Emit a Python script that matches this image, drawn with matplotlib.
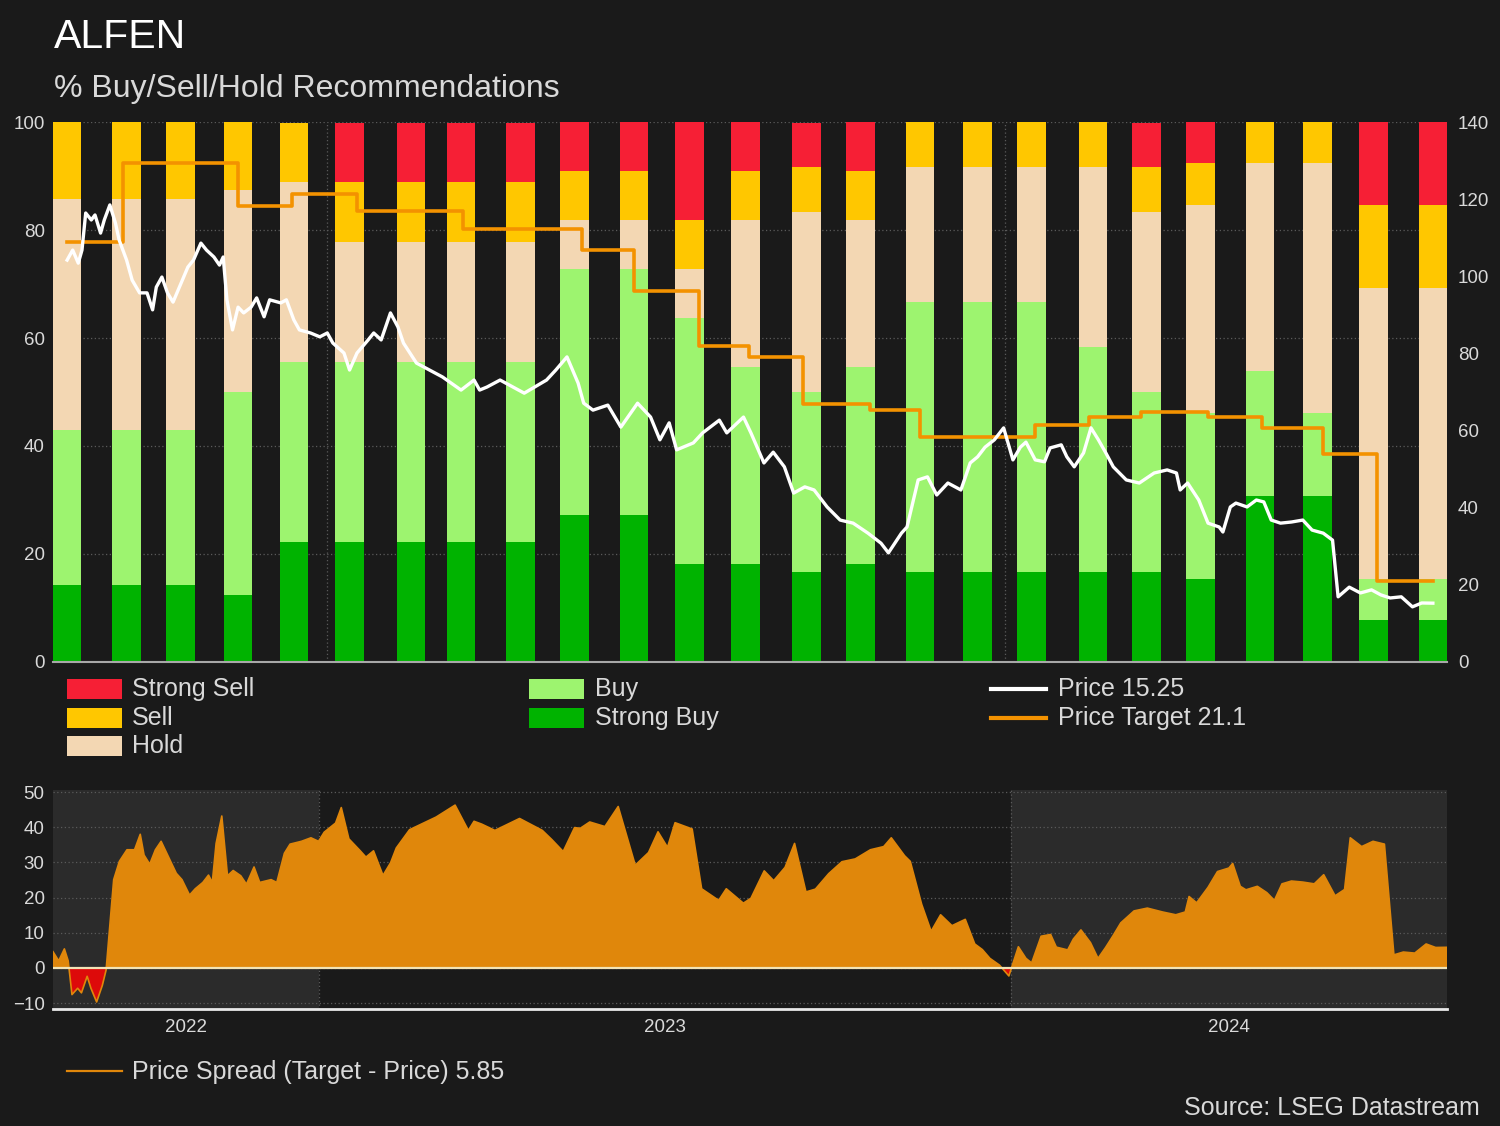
import numpy as np
import pandas as pd
import matplotlib
matplotlib.use("Agg")
import matplotlib.pyplot as plt
import matplotlib.dates as mdates
from matplotlib.patches import Rectangle
from matplotlib.lines import Line2D

plt.rcParams['font.family'] = ['Liberation Sans', 'DejaVu Sans']

# monthly analyst recommendation snapshots (% of analysts)
bar_dates = ["2022-08-14", "2022-09-15", "2022-10-14", "2022-11-14", "2022-12-14",
             "2023-01-13", "2023-02-15", "2023-03-14", "2023-04-15", "2023-05-14",
             "2023-06-15", "2023-07-15", "2023-08-14", "2023-09-16", "2023-10-15",
             "2023-11-16", "2023-12-17", "2024-01-15", "2024-02-17", "2024-03-17",
             "2024-04-15", "2024-05-17", "2024-06-17", "2024-07-17", "2024-08-18"]
strong_buy = [14.3, 14.3, 14.3, 12.5, 22.2, 22.2, 22.2, 22.2, 22.2, 27.3, 27.3, 18.2, 18.2,
              16.7, 18.2, 16.7, 16.7, 16.7, 16.7, 16.7, 15.4, 30.8, 30.8, 7.7, 7.7]
buy = [28.6, 28.6, 28.6, 37.5, 33.3, 33.3, 33.3, 33.3, 33.3, 45.5, 45.5, 45.5, 36.4,
       33.3, 36.4, 50.0, 50.0, 50.0, 41.7, 33.3, 30.8, 23.1, 15.4, 7.7, 7.7]
hold = [42.9, 42.9, 42.9, 37.5, 33.3, 22.2, 22.2, 22.2, 22.2, 9.1, 9.1, 9.1, 27.3,
        33.3, 27.3, 25.0, 25.0, 25.0, 33.3, 33.3, 38.5, 38.5, 46.2, 53.8, 53.8]
sell = [14.3, 14.3, 14.3, 12.5, 11.1, 11.1, 11.1, 11.1, 11.1, 9.1, 9.1, 9.1, 9.1,
        8.3, 9.1, 8.3, 8.3, 8.3, 8.3, 8.3, 7.7, 7.7, 7.7, 15.4, 15.4]
strong_sell = [0, 0, 0, 0, 0, 11.1, 11.1, 11.1, 11.1, 9.1, 9.1, 18.2, 9.1,
               8.3, 9.1, 0, 0, 0, 0, 8.3, 7.7, 0, 0, 15.4, 15.4]

# consensus price target (changes)
target_dates = ["2022-08-14", "2022-09-13", "2022-11-14", "2022-12-13", "2023-01-17",
                "2023-03-15", "2023-05-18", "2023-06-15", "2023-07-20", "2023-08-16",
                "2023-09-14", "2023-10-20", "2023-11-16", "2024-01-17", "2024-02-15",
                "2024-03-14", "2024-04-19", "2024-05-18", "2024-06-20", "2024-07-19",
                "2024-08-18"]
target_values = [108.8, 129.3, 118.2, 121.3, 116.8, 112.2, 106.8, 96.3, 81.9, 79.2,
                 67.0, 65.3, 58.4, 61.4, 63.4, 64.9, 63.4, 60.7, 53.9, 21.1, 21.1]

# share price
price_dates = [
    "2022-08-14", "2022-08-17", "2022-08-20", "2022-08-22", "2022-08-24", "2022-08-27",
    "2022-08-29", "2022-09-01", "2022-09-03", "2022-09-06", "2022-09-09", "2022-09-11",
    "2022-09-15", "2022-09-18", "2022-09-22", "2022-09-26", "2022-09-29", "2022-10-01",
    "2022-10-04", "2022-10-07", "2022-10-10", "2022-10-15", "2022-10-18", "2022-10-21",
    "2022-10-25", "2022-10-28", "2022-11-01", "2022-11-04", "2022-11-06", "2022-11-08",
    "2022-11-11", "2022-11-14", "2022-11-17", "2022-11-21", "2022-11-24", "2022-11-28",
    "2022-12-01", "2022-12-07", "2022-12-10", "2022-12-14", "2022-12-17", "2022-12-23",
    "2022-12-28", "2023-01-01", "2023-01-04", "2023-01-10", "2023-01-13", "2023-01-17",
    "2023-01-23", "2023-01-26", "2023-01-30", "2023-02-04", "2023-02-08", "2023-02-11",
    "2023-02-18", "2023-02-25", "2023-03-04", "2023-03-14", "2023-03-21", "2023-03-24",
    "2023-03-28", "2023-04-04", "2023-04-17", "2023-04-29", "2023-05-04", "2023-05-10",
    "2023-05-16", "2023-05-19", "2023-05-24", "2023-06-01", "2023-06-08", "2023-06-17",
    "2023-06-24", "2023-06-29", "2023-07-04", "2023-07-08", "2023-07-17", "2023-07-22",
    "2023-07-31", "2023-08-04", "2023-08-13", "2023-08-17", "2023-08-24", "2023-08-29",
    "2023-09-04", "2023-09-09", "2023-09-15", "2023-09-20", "2023-09-27", "2023-10-04",
    "2023-10-11", "2023-10-19", "2023-10-26", "2023-10-30", "2023-11-06", "2023-11-09",
    "2023-11-15", "2023-11-20", "2023-11-25", "2023-12-01", "2023-12-08", "2023-12-13",
    "2023-12-17", "2023-12-21", "2023-12-26", "2023-12-31", "2024-01-05", "2024-01-09",
    "2024-01-12", "2024-01-17", "2024-01-22", "2024-01-25", "2024-01-31", "2024-02-03",
    "2024-02-07", "2024-02-12", "2024-02-16", "2024-02-20", "2024-02-24", "2024-02-28",
    "2024-03-06", "2024-03-13", "2024-03-21", "2024-03-28", "2024-04-02", "2024-04-04",
    "2024-04-08", "2024-04-14", "2024-04-19", "2024-04-25", "2024-04-27", "2024-05-01",
    "2024-05-04", "2024-05-10", "2024-05-15", "2024-05-19", "2024-05-23", "2024-05-28",
    "2024-06-03", "2024-06-09", "2024-06-14", "2024-06-20", "2024-06-25", "2024-06-28",
    "2024-07-04", "2024-07-10", "2024-07-16", "2024-07-21", "2024-07-26", "2024-08-01",
    "2024-08-07", "2024-08-12", "2024-08-18"]
price_values = [
    104.2, 106.8, 103.4, 106.8, 116.4, 114.6, 115.9, 111.2, 114.6, 118.5, 113.8, 109.4,
    104.2, 99.0, 95.7, 95.7, 91.3, 97.2, 99.8, 95.7, 93.3, 99.0, 102.4, 104.2,
    108.6, 106.8, 105.0, 102.9, 105.0, 93.9, 86.1, 92.0, 90.5, 92.0, 94.4, 89.5,
    93.9, 93.1, 93.9, 88.7, 86.1, 85.3, 84.3, 85.3, 82.7, 80.1, 75.7, 80.1,
    83.5, 85.3, 83.5, 90.5, 86.9, 82.7, 77.5, 75.7, 73.9, 70.5, 73.1, 70.5,
    71.3, 73.1, 69.7, 73.1, 75.7, 79.1, 72.3, 67.1, 65.3, 66.6, 60.9, 67.1,
    63.5, 57.6, 62.0, 55.0, 56.8, 59.4, 62.7, 59.4, 63.5, 59.4, 51.6, 54.4,
    50.6, 43.8, 45.4, 44.6, 40.2, 36.8, 36.0, 33.4, 30.8, 28.3, 33.4, 35.0,
    47.2, 48.0, 43.3, 46.4, 44.6, 51.6, 53.2, 55.7, 57.6, 60.7, 52.4, 55.7,
    57.0, 52.4, 51.9, 55.5, 56.3, 53.2, 50.6, 54.2, 60.7, 57.6, 54.2, 50.6,
    47.2, 46.4, 49.0, 49.8, 49.0, 44.6, 46.4, 42.0, 36.0, 35.0, 33.7, 40.2,
    41.2, 40.2, 42.0, 41.5, 36.8, 36.0, 36.3, 36.8, 34.2, 33.4, 31.6, 16.9,
    19.4, 17.9, 18.7, 17.4, 16.6, 16.9, 14.3, 15.3, 15.25]

BG = '#1a1a1a'
SHADE = '#2b2b2b'
TXT = '#d9d9d9'
GRID = '#5a5a5a'
C_SS, C_S, C_H, C_B, C_SB = '#f61f35', '#ffc700', '#f3d7b3', '#9df46f', '#00b300'
C_PT = '#f39200'
C_SPREAD = '#e0870b'

bx = mdates.date2num(pd.to_datetime(bar_dates))
px = mdates.date2num(pd.to_datetime(price_dates))
tx = mdates.date2num(pd.to_datetime(target_dates))
price = np.array(price_values)
tvals = np.array(target_values)
spread = tvals[np.searchsorted(tx, px, side='right') - 1] - price

fig = plt.figure(figsize=(15, 11.26), dpi=100, facecolor=BG)
W, H = 1500, 1126

# ---- top panel: recommendation bars + price lines
ax = fig.add_axes([53 / W, 1 - 662 / H, 1394 / W, 540 / H], facecolor=BG)
half = 7.6
ax.set_xlim(px[0] - half, px[-1] + half)
ax.set_ylim(0, 100)
bw = 15.4
bottom = np.zeros(len(bx))
for vals, col in [(strong_buy, C_SB), (buy, C_B), (hold, C_H), (sell, C_S), (strong_sell, C_SS)]:
    ax.bar(bx, vals, width=bw, bottom=bottom, color=col, linewidth=0, zorder=2)
    bottom += np.array(vals)
ax.set_yticks([0, 20, 40, 60, 80, 100])
ax.grid(axis='y', color=GRID, linestyle=(0, (1, 2)), linewidth=0.9, zorder=0)
for yr in ['2023-01-01', '2024-01-01']:
    ax.axvline(mdates.datestr2num(yr), color=GRID, linestyle=(0, (1, 2)), linewidth=0.9, zorder=0)
ax.set_xticks([])
for s in ['top', 'left', 'right']:
    ax.spines[s].set_visible(False)
ax.spines['bottom'].set_color('#a8a8a8')
ax.spines['bottom'].set_linewidth(1.5)
ax.tick_params(axis='y', length=0, labelsize=13.5, labelcolor=TXT, pad=6)

ax2 = ax.twinx()
ax2.set_ylim(0, 140)
ax2.set_yticks(range(0, 141, 20))
ax2.tick_params(axis='y', length=0, labelsize=13.5, labelcolor=TXT, pad=8)
for s in ax2.spines.values():
    s.set_visible(False)
ax2.step(tx, tvals, where='post', color=C_PT, linewidth=2.6, zorder=3)
ax2.plot(px, price, color='white', linewidth=2.4, zorder=4)

# ---- legend
def patch(x, y, col):
    fig.add_artist(Rectangle((x / W, 1 - (y + 10) / H), 55 / W, 20 / H,
                             transform=fig.transFigure, color=col, linewidth=0))

def label(x, y, s):
    fig.text(x / W, 1 - y / H, s, color=TXT, fontsize=18, va='center', ha='left')

def legline(x, y, col, lw):
    fig.add_artist(Line2D([x / W, (x + 55) / W], [1 - y / H, 1 - y / H],
                          transform=fig.transFigure, color=col, linewidth=lw))

rows = [689, 718, 746]
for (name, col), y in zip([('Strong Sell', C_SS), ('Sell', C_S), ('Hold', C_H)], rows):
    patch(67, y, col)
    label(132, y, name)
for (name, col), y in zip([('Buy', C_B), ('Strong Buy', C_SB)], rows):
    patch(529, y, col)
    label(595, y, name)
legline(991, rows[0], 'white', 3)
label(1058, rows[0], 'Price %.2f' % price[-1])
legline(991, rows[1], C_PT, 3)
label(1058, rows[1], 'Price Target %.1f' % tvals[-1])

# ---- bottom panel: spread
bx2 = fig.add_axes([53 / W, 1 - 1009 / H, 1394 / W, 219 / H], facecolor=BG)
x0, x1 = mdates.datestr2num('2022-08-14'), mdates.datestr2num('2024-08-18')
bx2.set_xlim(x0, x1)
bx2.set_ylim(-11.7, 50.6)
y23, y24 = mdates.datestr2num('2023-01-01'), mdates.datestr2num('2024-01-01')
bx2.axvspan(x0, y23, color=SHADE, linewidth=0, zorder=0)
bx2.axvspan(y24, x1, color=SHADE, linewidth=0, zorder=0)
bx2.set_yticks(range(-10, 51, 10))
bx2.grid(axis='y', color=GRID, linestyle=(0, (1, 2)), linewidth=0.9, zorder=1)
for yr in [y23, y24]:
    bx2.axvline(yr, color=GRID, linestyle=(0, (1, 2)), linewidth=0.9, zorder=1)
bx2.fill_between(px, spread, 0, where=spread >= 0, interpolate=True,
                 color=C_SPREAD, linewidth=0, zorder=2)
bx2.fill_between(px, spread, 0, where=spread <= 0, interpolate=True,
                 color='#dd0a0a', linewidth=0, zorder=2)
bx2.plot(px, spread, color=C_SPREAD, linewidth=1.2, zorder=3)
bx2.axhline(0, color='#f2e3b5', linewidth=1.6, zorder=4)
bx2.set_xticks([(x0 + y23) / 2, (y23 + y24) / 2, (y24 + x1) / 2])
bx2.set_xticklabels(['2022', '2023', '2024'])
for s in ['top', 'left', 'right']:
    bx2.spines[s].set_visible(False)
bx2.spines['bottom'].set_color('#e8e8e8')
bx2.spines['bottom'].set_linewidth(2)
bx2.tick_params(axis='both', length=0, labelsize=13.5, labelcolor=TXT)
bx2.tick_params(axis='y', pad=6)
bx2.tick_params(axis='x', pad=7)

legline(67, 1071, C_SPREAD, 1.6)
label(132, 1072, 'Price Spread (Target - Price) %.2f' % spread[-1])

# ---- titles and source
fig.text(54 / W, 1 - 37 / H, 'ALFEN', color='white', fontsize=29.5, va='center', ha='left')
fig.text(54 / W, 1 - 89 / H, '% Buy/Sell/Hold Recommendations', color=TXT, fontsize=23,
         va='center', ha='left')
fig.text(1480 / W, 1 - 1108 / H, 'Source: LSEG Datastream', color=TXT, fontsize=18,
         va='center', ha='right')

fig.savefig('out.png', dpi=100, facecolor=BG)
